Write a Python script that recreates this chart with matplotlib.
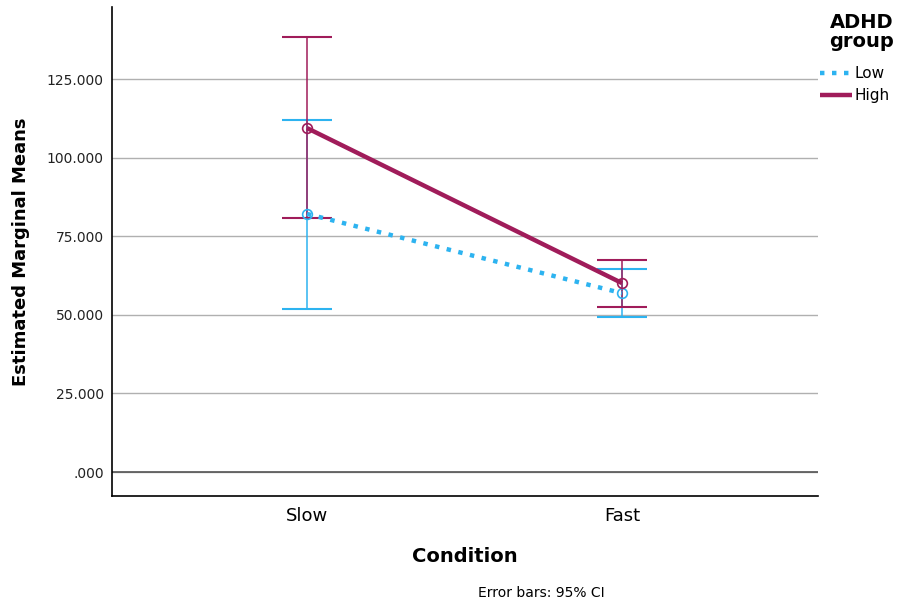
import numpy as np
import matplotlib.pyplot as plt

plt.rcParams['font.family'] = ['DejaVu Sans']

conditions = ['Slow', 'Fast']
groups = ['Low', 'High']
means = {'Low': [82.1, 56.9], 'High': [109.4, 60.1]}
ci_low = {'Low': [51.8, 49.2], 'High': [80.8, 52.6]}
ci_high = {'Low': [112.0, 64.6], 'High': [138.4, 67.6]}
yticks = [0, 25, 50, 75, 100, 125]

colors = {'Low': '#2DB3F0', 'High': '#A01C5A'}
styles = {'Low': (0, (1.0, 1.7)), 'High': '-'}


def main():
    fig = plt.figure(figsize=(8.98, 6.08), dpi=100)
    ax = fig.add_axes([0.1247, 0.1842, 0.7862, 0.8043])
    x = np.arange(len(conditions))

    for g in groups:
        m = np.array(means[g])
        err = [m - np.array(ci_low[g]), np.array(ci_high[g]) - m]
        ax.errorbar(x, m, yerr=err, fmt='none', ecolor=colors[g],
                    elinewidth=1.1, capsize=18, capthick=1.5, zorder=3)
        ax.plot(x, m, color=colors[g], linestyle=styles[g], lw=3.2,
                solid_capstyle='butt', dash_capstyle='butt', zorder=4, label=g)
        ax.plot(x, m, 'o', mfc='none', mec=colors[g], ms=7, mew=1.2, zorder=5)

    ax.set_xlim(-0.619, 1.622)
    ax.set_ylim(-7.6, 147.9)
    ax.set_xticks(x)
    ax.set_xticklabels(conditions, fontsize=13)
    ax.set_yticks(yticks)
    ax.set_yticklabels(['.000' if v == 0 else '%.3f' % v for v in yticks],
                       fontsize=10, color='#222222')
    ax.tick_params(length=0, pad=8)
    ax.tick_params(axis='y', pad=6)
    ax.yaxis.grid(True, color='#b0b0b0', lw=1)
    ax.set_axisbelow(True)
    ax.axhline(0, color='#555555', lw=1.2, zorder=1)
    for s in ['top', 'right']:
        ax.spines[s].set_visible(False)
    ax.spines['left'].set_linewidth(1.2)
    ax.spines['bottom'].set_linewidth(1.2)

    ax.set_xlabel('Condition', fontsize=14, fontweight='bold', labelpad=16)
    ax.set_ylabel('Estimated Marginal Means', fontsize=13, fontweight='bold', labelpad=12)

    # legend title drawn separately so it sits right-aligned like SPSS
    fig.text(0.995, 1 - 13 / 608, 'ADHD\ngroup', ha='right', va='top',
             fontsize=14, fontweight='bold', linespacing=1.0)
    ax.legend(loc='upper left', bbox_to_anchor=(820 / 898, 1 - 66 / 608),
              bbox_transform=fig.transFigure, frameon=False, fontsize=11,
              handlelength=2.1, handletextpad=0.15, borderpad=0,
              borderaxespad=0, labelspacing=0.45)

    fig.text(0.603, 0.018, 'Error bars: 95% CI', ha='center', fontsize=10)
    fig.savefig('out.png', dpi=100)


if __name__ == '__main__':
    main()
